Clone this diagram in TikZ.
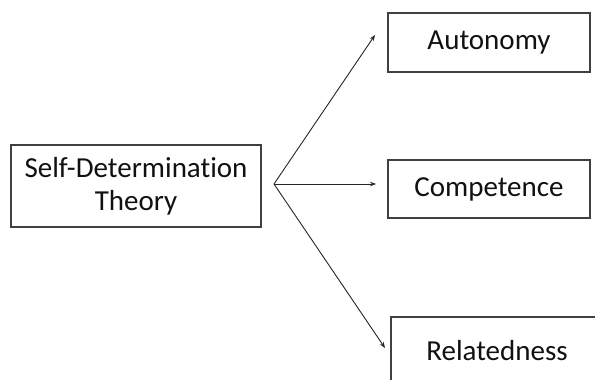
\documentclass[tikz,border=0pt]{standalone}
\usepackage{fontspec}
\setmainfont[Ligatures=NoCommon]{Carlito}
\usetikzlibrary{arrows.meta}
\definecolor{boxline}{HTML}{404040}
\definecolor{txt}{HTML}{111111}
\begin{document}
\begin{tikzpicture}[x=1pt,y=-1pt,
  lbl/.style={text=txt,font=\fontsize{29}{33}\selectfont},
  box/.style={draw=boxline,line width=1.4pt,inner sep=0pt,lbl,align=center},
  conn/.style={draw=black!85,line width=0.9pt,-{Stealth[length=6pt,width=4.5pt]}}]
\useasboundingbox (0,0) rectangle (595,380);
\clip (0,0) rectangle (595,380);
\fill[white] (0,0) rectangle (595,380);
\node[box,minimum width=250pt,minimum height=82pt] (sdt) at (136,186) {Self-Determination\\Theory};
\node[box,minimum width=202pt,minimum height=59pt] (aut) at (489,42.5) {Autonomy};
\node[box,minimum width=202pt,minimum height=58pt] (comp) at (489,189) {Competence};
\node[box,minimum width=212pt,minimum height=68pt] (rel) at (497,351) {};
\node[lbl,anchor=base] (reltext) at (497,360) {Relatedness};
\coordinate (o) at (274,184);
\coordinate (ta) at (375,35);
\coordinate (tc) at (376,184);
\coordinate (tr) at (385,348);
\draw[conn] (o) -- (ta);
\draw[conn] (o) -- (tc);
\draw[conn] (o) -- (tr);
\end{tikzpicture}
\end{document}
